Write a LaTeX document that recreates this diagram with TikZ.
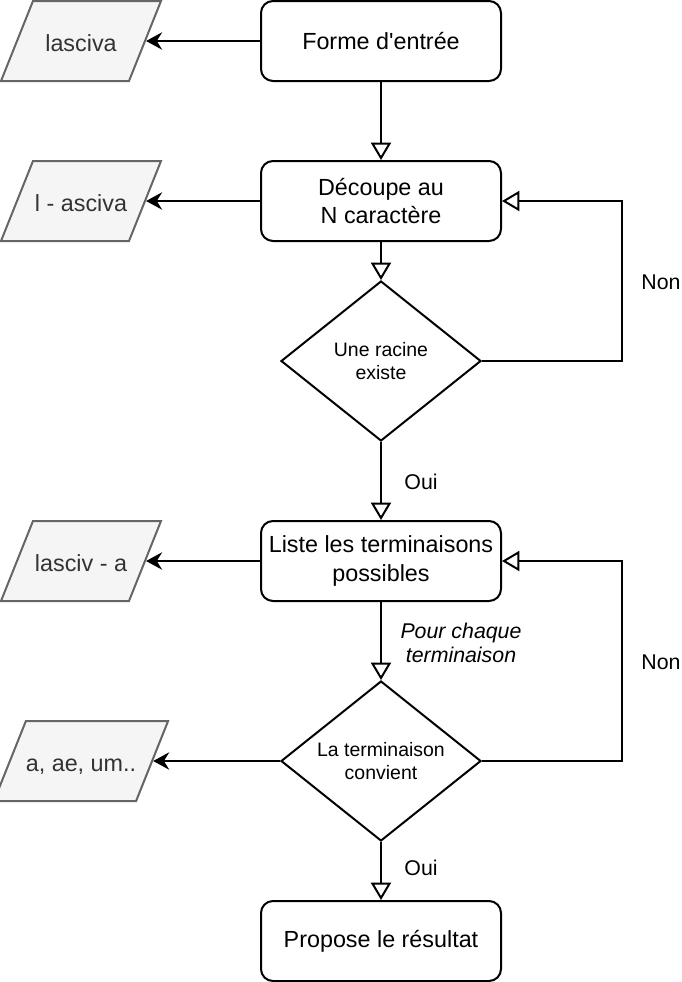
\documentclass[tikz,border=0pt]{standalone}
\usepackage{fontspec}
\setmainfont{Liberation Sans}
\usetikzlibrary{shapes.geometric,arrows.meta}
\definecolor{inputfill}{HTML}{F5F5F5}
\definecolor{inputdraw}{HTML}{666666}
\definecolor{inputtext}{HTML}{333333}
\tikzset{every picture/.style={line width=1.5pt}}
\tikzset{
  procbox/.style={draw, rounded corners=9pt, minimum width=180pt, minimum height=60pt,
    inner sep=0pt, align=center, font=\fontsize{17.5}{21.2}\selectfont},
  testbox/.style={draw, diamond, aspect=1.25, minimum width=150pt, minimum height=120pt,
    inner sep=0pt, align=center, font=\fontsize{14.6}{17.5}\selectfont},
  databox/.style={draw=inputdraw, fill=inputfill, text=inputtext, trapezium,
    trapezium left angle=68.2, trapezium right angle=111.8, trapezium stretches body=true,
    text height=16.3pt, text depth=0pt, inner xsep=0pt, inner ysep=21.85pt,
    minimum width=120pt, font=\fontsize{17.5}{21}\selectfont},
  lbl/.style={font=\fontsize{16}{19}\selectfont, align=center},
  filltip/.style={-{Stealth[length=12pt,width=13pt,inset=4pt]}},
  opentip/.style={-{Triangle[open,length=13pt,width=15pt,fill=white]}}
}

\begin{document}
\begin{tikzpicture}[x=0.75pt,y=0.75pt,yscale=-1,xscale=1]
  \useasboundingbox (0,0) rectangle (682,982);

  %Process boxes
  \node[procbox] (forme) at (381,41) {Forme d\textquotesingle entrée};
  \node[procbox] (decoupe) at (381,201) {Découpe au\\N caractère};
  \node[procbox] (liste) at (381,561) {Liste les terminaisons\\possibles};
  \node[procbox] (resultat) at (381,941) {Propose le résultat};
  %Decisions
  \node[testbox] (racine) at (381,361) {Une racine\\existe};
  \node[testbox] (convient) at (381,761) {La terminaison\\convient};
  %Data
  \node[databox] (lasciva) at (81,41) {lasciva};
  \node[databox] (coupe) at (81,201) {l - asciva};
  \node[databox] (lasciv) at (81,561) {lasciv - a};
  \node[databox] (finales) at (81,761) {a, ae, um..};

  %Main flow
  \draw[opentip] (forme) -- (decoupe);
  \draw[opentip] (decoupe) -- (racine);
  \draw[opentip] (racine) -- (liste);
  \draw[opentip] (liste) -- (convient);
  \draw[opentip] (convient) -- (resultat);
  %Loops back
  \draw[opentip] (racine.east) -- ++(140,0) |- (decoupe.east);
  \draw[opentip] (convient.east) -- ++(140,0) |- (liste.east);
  %Examples
  \draw[filltip] (forme.west) -- (lasciva.right side);
  \draw[filltip] (decoupe.west) -- (coupe.right side);
  \draw[filltip] (liste.west) -- (lasciv.right side);
  \draw[filltip] (convient.west) -- (finales.right side);

  %Labels
  \node[lbl] (non1) at (661,282) {Non};
  \node[lbl] (non2) at (661,662) {Non};
  \node[lbl] (oui1) at (421,482) {Oui};
  \node[lbl] (oui2) at (421,868) {Oui};
  \node[lbl, font=\fontsize{16}{18.5}\selectfont\itshape] (chaque) at (461,643) {Pour chaque\\terminaison};
\end{tikzpicture}
\end{document}
